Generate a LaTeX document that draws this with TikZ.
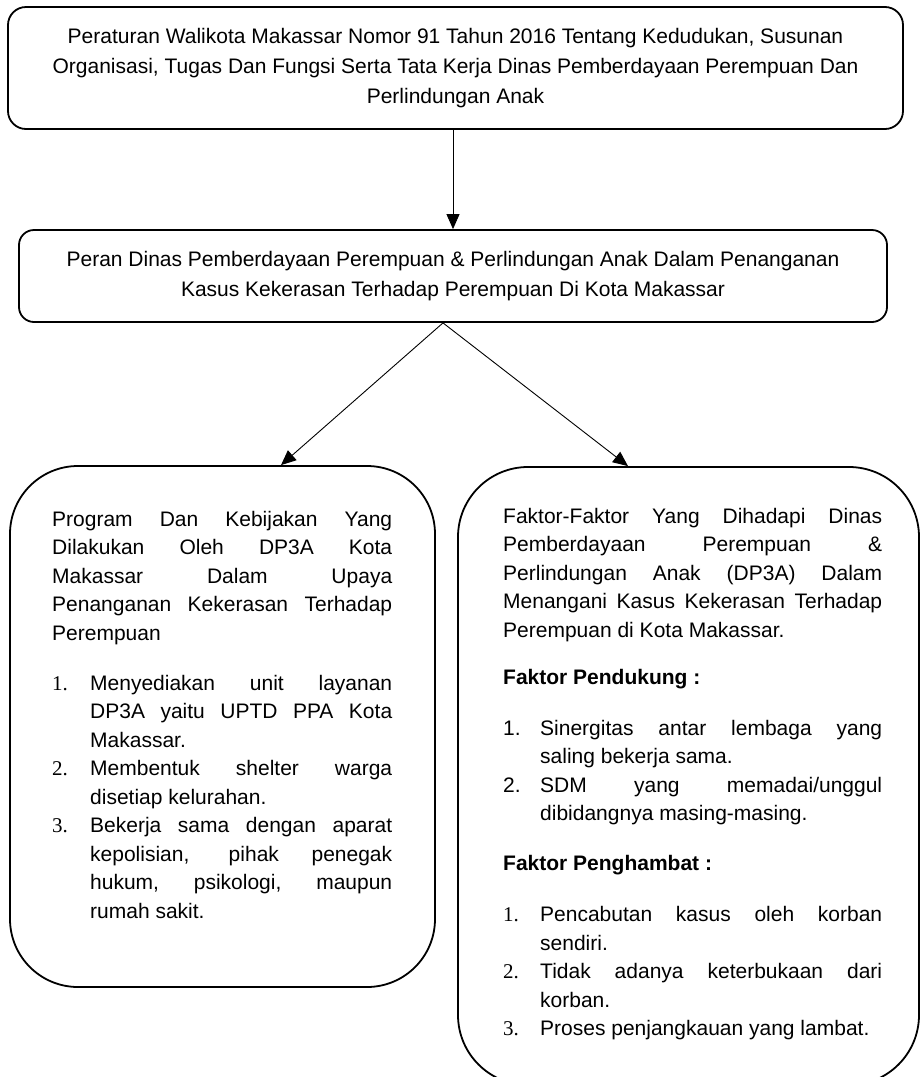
\documentclass[tikz,border=0pt]{standalone}
\usepackage{fontspec}
\setmainfont{Liberation Sans}
\newfontfamily\numfont{Liberation Serif}
\usetikzlibrary{positioning, arrows.meta}

\setlength{\parindent}{0pt}
\tolerance=10000
\hbadness=10000
\hyphenpenalty=10000
\exhyphenpenalty=10000

% numbered entry: number in a fixed box, text hangs after it
\newcommand{\butir}[3][38pt]{\par\hangindent=#1\hangafter=1\noindent\makebox[#1][l]{#2}#3}

\begin{document}
\begin{tikzpicture}[x=1pt, y=-1pt,
    every node/.style={font=\fontsize{21}{30}\selectfont},
    kotak/.style={draw, line width=1.8pt, rounded corners=#1, inner sep=0pt},
    isi/.style={align=justify, inner sep=0pt, anchor=north west,
        font=\fontsize{21}{28.5}\selectfont},
    panah/.style={-{Triangle[length=15pt, width=13pt]}, line width=0.9pt}
]
    \useasboundingbox (0,0) rectangle (920,1077);
    \clip (0,0) rectangle (920,1077);
    \fill[white] (0,0) rectangle (920,1077);

    \node[kotak=18pt, minimum width=895pt, minimum height=122pt, align=center] (perwali) at (455.5,68)
        {Peraturan Walikota Makassar Nomor 91 Tahun 2016 Tentang Kedudukan, Susunan\\
         Organisasi, Tugas Dan Fungsi Serta Tata Kerja Dinas Pemberdayaan Perempuan Dan\\
         Perlindungan Anak};
    \node[kotak=15pt, minimum width=868pt, minimum height=92pt, align=center] (peran) at (453,276)
        {Peran Dinas Pemberdayaan Perempuan \& Perlindungan Anak Dalam Penanganan\\
         Kasus Kekerasan Terhadap Perempuan Di Kota Makassar};

    \node[kotak=68pt, minimum width=425pt, minimum height=521pt] (program) at (222.5,726.5) {};
    \node[kotak=70pt, minimum width=461pt, minimum height=618pt] (faktor) at (688.5,776) {};

    \node[isi, text width=340pt] (programisi) at (52,511) {%
        Program Dan Kebijakan Yang\linebreak Dilakukan Oleh DP3A Kota\linebreak
        Makassar Dalam Upaya\linebreak Penanganan Kekerasan Terhadap\linebreak Perempuan
        \par\vspace{21.5pt}
        \butir{\numfont 1.}{Menyediakan unit layanan\linebreak DP3A yaitu UPTD PPA Kota\linebreak Makassar.}
        \butir{\numfont 2.}{Membentuk shelter warga\linebreak disetiap kelurahan.}
        \butir{\numfont 3.}{Bekerja sama dengan aparat\linebreak kepolisian, pihak penegak\linebreak
            hukum, psikologi, maupun\linebreak rumah sakit.}\par};

    \node[isi, text width=379pt] (faktorisi) at (503,508) {%
        Faktor-Faktor Yang Dihadapi Dinas\linebreak Pemberdayaan Perempuan \&\linebreak
        Perlindungan Anak (DP3A) Dalam\linebreak Menangani Kasus Kekerasan Terhadap\linebreak
        Perempuan di Kota Makassar.
        \par\vspace{18.5pt}
        \textbf{Faktor Pendukung :}
        \par\vspace{22.5pt}
        \butir[37pt]{1.}{Sinergitas antar lembaga yang\linebreak saling bekerja sama.}
        \butir[37pt]{2.}{SDM yang memadai/unggul\linebreak dibidangnya masing-masing.}
        \par\vspace{21pt}
        \textbf{Faktor Penghambat :}
        \par\vspace{23pt}
        \butir[37pt]{\numfont 1.}{Pencabutan kasus oleh korban\linebreak sendiri.}
        \butir[37pt]{\numfont 2.}{Tidak adanya keterbukaan dari\linebreak korban.}
        \butir[37pt]{\numfont 3.}{Proses penjangkauan yang lambat.}\par};

    \draw[panah] (perwali.south -| peran.north) -- (peran.north);
    \draw[panah] ([xshift=-10pt]peran.south) -- ([xshift=58.5pt]program.north);
    \draw[panah] ([xshift=-10pt]peran.south) -- ([xshift=-60.5pt]faktor.north);
\end{tikzpicture}
\end{document}
